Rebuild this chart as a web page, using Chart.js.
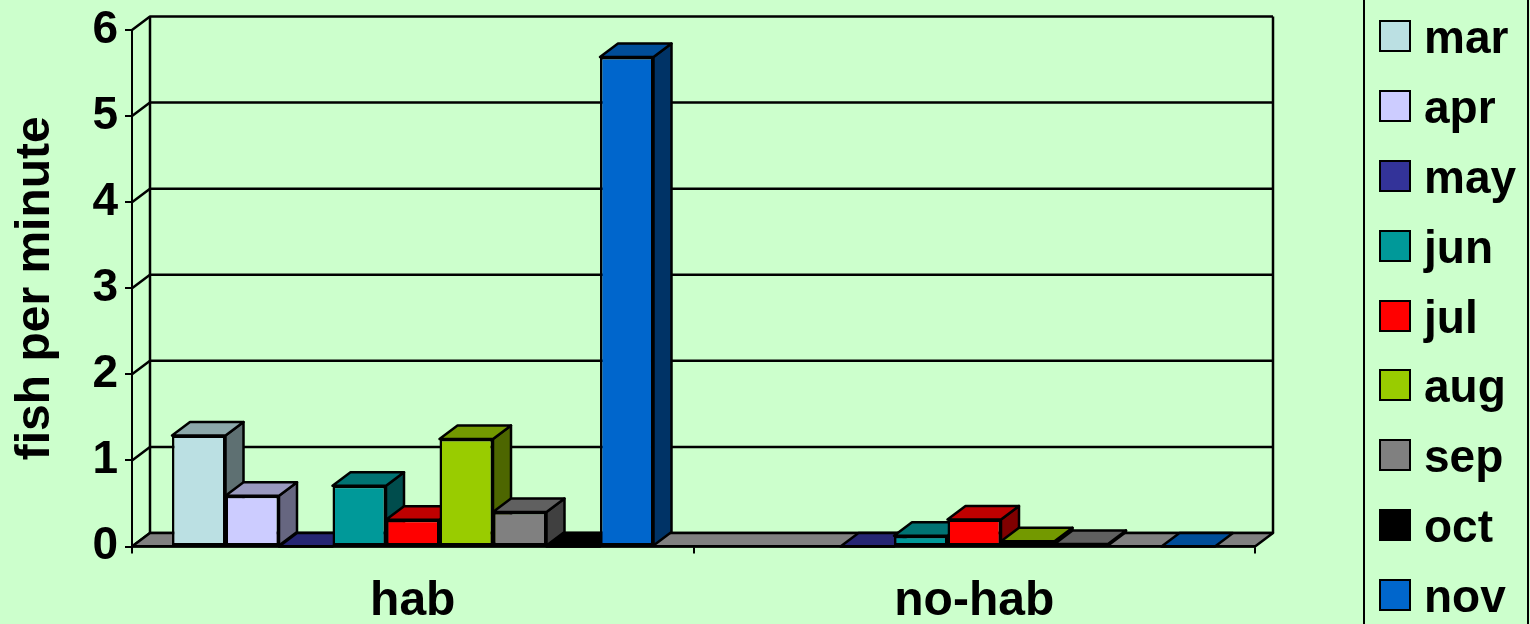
<!DOCTYPE html>
<html>
<head>
<meta charset="utf-8">
<title>fish per minute</title>
<script src="https://cdn.jsdelivr.net/npm/chart.js@4"></script>
<style>
    html, body { margin: 0; padding: 0; background: #CCFFCC; overflow: hidden; }
    #wrap { position: relative; width: 1530px; height: 624px; }
    #legend {
        position: absolute; left: 1363px; top: -2px; width: 162px; height: 625.6px;
        border: 2px solid #000; box-sizing: content-box;
        font: bold 46px "Liberation Sans", Arial, sans-serif; color: #000;
    }
    .item { display: flex; align-items: center; height: 69.8px; }
    .item:first-child { margin-top: 1.5px; }
    .item span:last-child { position: relative; top: 1px; }
    .swatch { width: 28px; height: 28px; border: 2px solid #000; margin-left: 14px; margin-right: 13px; flex: none; }
</style>
</head>
<body>
<div id="wrap">
    <canvas id="fishChart" width="1530" height="624"></canvas>
    <div id="legend"></div>
</div>
<script>
// Chart data, null = month not sampled
const categories = ['hab', 'no-hab'];
const months = ['mar', 'apr', 'may', 'jun', 'jul', 'aug', 'sep', 'oct', 'nov'];
const habValues = [1.29, 0.59, 0, 0.705, 0.31, 1.25, 0.40, 0, 5.685];
const noHabValues = [null, null, 0, 0.125, 0.315, 0.06, 0.03, null, 0];
const monthColors = ['#BBE0E3', '#CCCCFF', '#333399', '#009999', '#FF0000', '#99CC00', '#808080', '#000000', '#0066CC'];

// Depth of the fake 3D box
const depthX = 18;
const depthY = 13.5;

function shade(hex, f) {
    const n = parseInt(hex.slice(1), 16);
    const r = Math.round((n >> 16 & 255) * f);
    const g = Math.round((n >> 8 & 255) * f);
    const b = Math.round((n & 255) * f);
    return `rgb(${r},${g},${b})`;
}

function poly(ctx, pts, fill) {
    ctx.beginPath();
    ctx.moveTo(pts[0][0], pts[0][1]);
    pts.slice(1).forEach(p => ctx.lineTo(p[0], p[1]));
    ctx.closePath();
    if (fill) {
        ctx.fillStyle = fill;
        ctx.fill();
    }
    ctx.stroke();
}

// Walls, floor and the side and top faces of the bars
const box3d = {
    id: 'box3d',
    beforeDatasetsDraw(chart) {
        const ctx = chart.ctx;
        const area = chart.chartArea;
        const y = chart.scales.y;
        ctx.save();
        ctx.strokeStyle = '#000';
        ctx.lineWidth = 2.5;
        ctx.lineJoin = 'round';

        // back wall lines
        y.ticks.forEach(t => {
            const py = y.getPixelForValue(t.value);
            ctx.beginPath();
            ctx.moveTo(area.left, py);
            ctx.lineTo(area.left + depthX, py - depthY);
            ctx.lineTo(area.right + depthX, py - depthY);
            ctx.stroke();
        });
        ctx.beginPath();
        ctx.moveTo(area.left + depthX, area.top - depthY);
        ctx.lineTo(area.left + depthX, area.bottom - depthY);
        ctx.moveTo(area.right + depthX, area.top - depthY);
        ctx.lineTo(area.right + depthX, area.bottom - depthY);
        ctx.stroke();

        // floor
        poly(ctx, [
            [area.left, area.bottom],
            [area.right, area.bottom],
            [area.right + depthX, area.bottom - depthY],
            [area.left + depthX, area.bottom - depthY]
        ], '#808080');

        // left to right so later bars cover earlier side faces
        categories.forEach((c, j) => {
            months.forEach((m, i) => {
                if (chart.data.datasets[i].data[j] === null) return;
                const bar = chart.getDatasetMeta(i).data[j];
                const left = bar.x - bar.width / 2;
                const right = bar.x + bar.width / 2;
                const top = bar.y;
                const bottom = bar.base;
                if (bottom > top) {
                    poly(ctx, [
                        [right, top],
                        [right + depthX, top - depthY],
                        [right + depthX, bottom - depthY],
                        [right, bottom]
                    ], shade(monthColors[i], 0.5));
                }
                poly(ctx, [
                    [left, top],
                    [right, top],
                    [right + depthX, top - depthY],
                    [left + depthX, top - depthY]
                ], shade(monthColors[i], 0.75));
            });
        });
        ctx.restore();
    }
};

const fontFamily = '"Liberation Sans", Arial, sans-serif';

new Chart(document.getElementById('fishChart').getContext('2d'), {
    type: 'bar',
    data: {
        labels: categories,
        datasets: months.map((m, i) => ({
            label: m,
            data: [habValues[i], noHabValues[i]],
            backgroundColor: monthColors[i],
            borderColor: '#000',
            borderWidth: 2.5,
            borderSkipped: false,
            categoryPercentage: 0.8575,
            barPercentage: 1
        }))
    },
    options: {
        responsive: false,
        animation: false,
        layout: { padding: { top: 30, right: 275, bottom: 0, left: 0 } },
        plugins: {
            legend: { display: false },
            title: { display: false },
            tooltip: { enabled: false }
        },
        scales: {
            x: {
                grid: { drawOnChartArea: false, color: '#000', lineWidth: 2, tickLength: 7 },
                border: { color: '#000', width: 2.5, z: 1 },
                ticks: {
                    color: '#000',
                    font: { family: fontFamily, size: 48, weight: 'bold' },
                    padding: 19,
                    maxRotation: 0,
                    autoSkip: false
                },
                afterFit: s => { s.height = 77.5; s.paddingLeft = 0; s.paddingRight = 0; }
            },
            y: {
                min: 0,
                max: 6,
                grid: { drawOnChartArea: false, color: '#000', lineWidth: 2, tickLength: 7 },
                border: { color: '#000', width: 2 },
                ticks: {
                    color: '#000',
                    font: { family: fontFamily, size: 46, weight: 'bold' },
                    padding: 7,
                    stepSize: 1
                },
                title: {
                    display: true,
                    text: 'fish per minute',
                    color: '#000',
                    font: { family: fontFamily, size: 48, weight: 'bold' },
                    padding: { top: 7, bottom: 0 }
                },
                afterFit: s => { s.width = 132; s.paddingTop = 0; s.paddingBottom = 0; }
            }
        }
    },
    plugins: [box3d]
});

// Legend as html so the rows can run the full height of the page
const legend = document.getElementById('legend');
months.forEach((m, i) => {
    const row = document.createElement('div');
    row.className = 'item';
    const swatch = document.createElement('span');
    swatch.className = 'swatch';
    swatch.style.background = monthColors[i];
    const text = document.createElement('span');
    text.textContent = m;
    row.append(swatch, text);
    legend.appendChild(row);
});
</script>
</body>
</html>
